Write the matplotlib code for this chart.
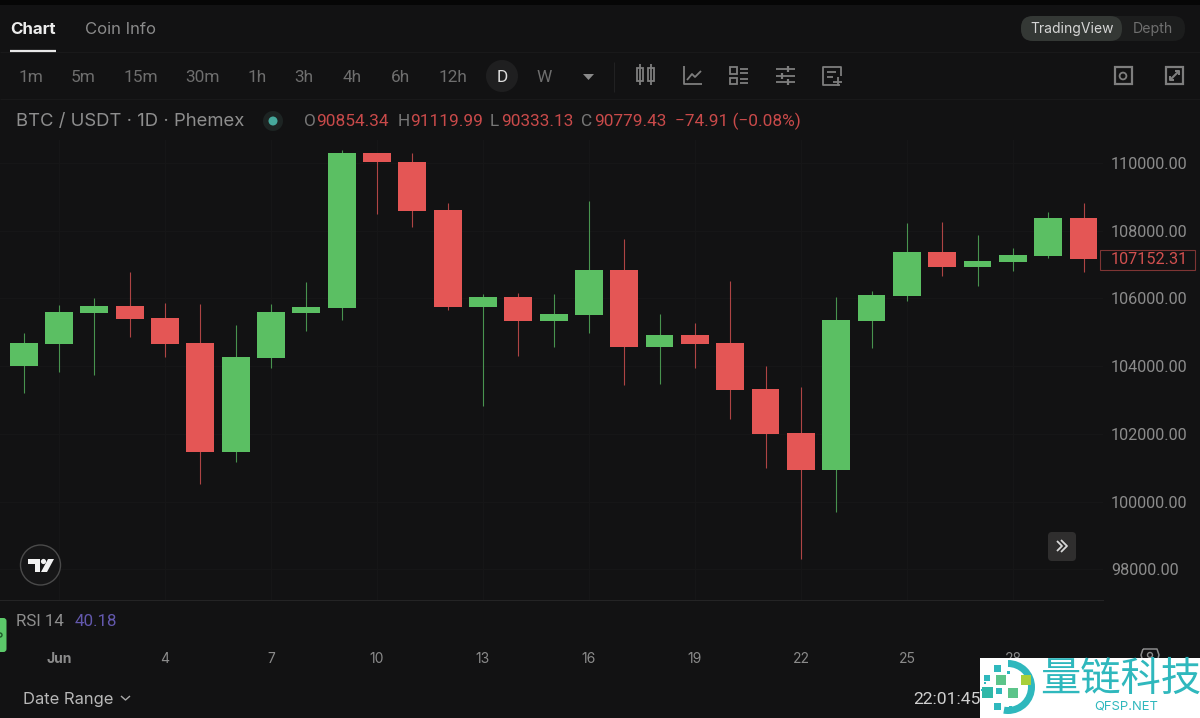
import matplotlib
matplotlib.use("Agg")
import matplotlib.pyplot as plt
from matplotlib.patches import Rectangle, Circle, FancyBboxPatch, Wedge, Polygon

plt.rcParams["font.family"] = ["Inter", "Noto Sans CJK SC", "DejaVu Sans"]

# daily candles, May 31 .. Jun 30
days = list(range(31))
opens = [104003, 104652, 105557, 105781, 105410, 104672, 101457, 104247, 105575, 105705, 110295,
         110030, 108605, 105734, 106038, 105339, 105516, 106826, 104554, 104908, 104672, 103315,
         102017, 100926, 105339, 106076, 107366, 106923, 107062, 107256, 108377]
closes = [104672, 105587, 105781, 105380, 104652, 101457, 104277, 105604, 105734, 110295, 110012,
          108584, 105743, 106038, 105339, 105537, 106826, 104554, 104908, 104652, 103286, 101988,
          100926, 105360, 106088, 107366, 106923, 107091, 107277, 108377, 107150]
highs = [104967, 105802, 106000, 106776, 105870, 105832, 105212, 105832, 106489, 110375, 110295,
         110277, 108811, 106127, 106147, 106127, 108870, 107749, 105537, 105262, 106510, 104003,
         103374, 106029, 106224, 108212, 108259, 107867, 107492, 108554, 108802]
lows = [103197, 103817, 103737, 104867, 104277, 100522, 101162, 103944, 105035, 105351, 108487,
        108094, 105655, 102823, 104298, 104554, 104967, 103442, 103472, 103935, 102430, 100985,
        98309, 99687, 104525, 105911, 106658, 106363, 106796, 107197, 106767]

price_ticks = [98000, 100000, 102000, 104000, 106000, 108000, 110000]
date_ticks = [1, 4, 7, 10, 13, 16, 19, 22, 25, 28]
date_labels = ["Jun", "4", "7", "10", "13", "16", "19", "22", "25", "28"]
last_price = 107152.31
timeframes = ["1m", "5m", "15m", "30m", "1h", "3h", "4h", "6h", "12h", "D", "W"]
timeframe_x = [31, 83, 141, 202, 257, 304, 352, 400, 453, 502, 544]

BG = "#121213"
GREEN = "#5bbf63"
RED = "#e45655"
GRAY = "#8b8b8b"
ICON = "#7e7e7e"
TEAL = "#2fb8bd"
NUM = ["Roboto", "DejaVu Sans"]

fig = plt.figure(figsize=(12, 7.18), dpi=100, facecolor=BG)
W, H = 1200, 718


def px_axes(left, top, right, bottom):
    return [left / W, (H - bottom) / H, (right - left) / W, (bottom - top) / H]


# main price pane
ax = fig.add_axes(px_axes(0, 140, 1103, 600), facecolor=BG)
ax.set_xlim(-0.671, 30.55)
ax.set_ylim(97100, 110670)
for d, o, c, h, l in zip(days, opens, closes, highs, lows):
    col = GREEN if c >= o else RED
    ax.vlines(d, l, h, color=col, lw=0.8, alpha=0.75, zorder=2)
    ax.bar(d, abs(c - o), bottom=min(o, c), width=0.785, color=col, zorder=3)
ax.yaxis.tick_right()
ax.set_yticks(price_ticks)
ax.set_yticklabels(["%.2f" % p for p in price_ticks], family=NUM)
ax.tick_params(axis="y", length=0, pad=5.8, labelsize=11.7, labelcolor=GRAY)
ax.set_xticks(date_ticks)
ax.tick_params(axis="x", length=0, labelbottom=False)
ax.grid(True, color="#171718", lw=0.7, zorder=0)
for s in ax.spines.values():
    s.set_visible(False)

# rsi pane, carries the date axis
ax2 = fig.add_axes(px_axes(0, 600, 1103, 645), facecolor=BG, sharex=ax)
ax2.set_yticks([])
ax2.set_xticks(date_ticks)
ax2.set_xticklabels(date_labels)
ax2.tick_params(axis="x", length=0, pad=5, labelsize=10, labelcolor=GRAY)
ax2.get_xticklabels()[0].set_fontweight("bold")
for k, s in ax2.spines.items():
    s.set_visible(k == "top")
ax2.spines["top"].set_color("#242425")
ax2.spines["top"].set_linewidth(0.8)

# everything around the chart, drawn in pixel coords
ui = fig.add_axes([0, 0, 1, 1], zorder=10)
ui.set_xlim(0, W)
ui.set_ylim(H, 0)
ui.axis("off")
ui.patch.set_alpha(0)


def pill(x0, y0, x1, y1, r, fc, ec="none", lw=0, z=1):
    ui.add_patch(FancyBboxPatch((x0 + r, y0 + r), x1 - x0 - 2 * r, y1 - y0 - 2 * r,
                                boxstyle="round,pad=%f" % r, fc=fc, ec=ec, lw=lw, zorder=z))


def line(xs, ys, c=ICON, lw=1.3, z=3):
    ui.plot(xs, ys, color=c, lw=lw, zorder=z, solid_capstyle="butt")


def box(x0, y0, x1, y1, c=ICON, lw=1.3):
    ui.add_patch(Rectangle((x0, y0), x1 - x0, y1 - y0, fc="none", ec=c, lw=lw, zorder=3))


def label(x, y, s, c=GRAY, fs=10, ha="center", **kw):
    return ui.text(x, y, s, color=c, fontsize=fs, ha=ha, va="center", zorder=4, **kw)


ui.add_patch(Rectangle((0, 0), W, 5, fc="#060606", ec="none"))

# last price tag
box(1100, 249.5, 1194.5, 270, c="#7e3534", lw=0.8)
label(1149, 260, "%.2f" % last_price, c="#d2504f", fs=11.7, family=NUM)

# tabs
label(10, 29.5, "Chart", c="#ececec", fs=12.2, ha="left", fontweight="bold")
label(85, 29.5, "Coin Info", c=GRAY, fs=12, ha="left")
line([10, 56], [51, 51], c="#e8e8e8", lw=1.6)
line([0, W], [52, 52], c="#1a1a1b", lw=0.7, z=1)
pill(1021, 16, 1185, 41, 12, "#1c1d1d")
pill(1021, 16, 1122, 41, 12, "#343835", z=2)
label(1072, 29.5, "TradingView", c="#d6d6d6", fs=10)
label(1153, 29.5, "Depth", c="#6f6f6f", fs=10.2)

# timeframes
ui.add_patch(Circle((502, 76), 16, fc="#1f1f20", ec="none", zorder=1))
for x, s in zip(timeframe_x, timeframes):
    label(x, 77, s, c="#dedede" if s == "D" else "#6e6e6e", fs=12.4, family=NUM)
ui.add_patch(Polygon([[583, 74], [594, 74], [588.5, 80]], fc="#8a8a8a", ec="none", zorder=3))
line([614, 614], [62, 92], c="#212122", lw=0.8)
line([0, W], [99, 99], c="#1a1a1b", lw=0.7, z=1)

# toolbar icons
box(637, 68, 643, 81)
box(648, 68, 654, 81)
line([640, 640], [64, 85])
line([651, 651], [64, 85])
line([684, 684, 702], [66, 84, 84])
line([687, 692, 695, 701], [80, 74, 77, 71])
box(730, 67, 737, 73.5)
box(730, 77.5, 737, 84)
line([740, 748], [69, 69])
line([740, 748], [72.5, 72.5])
line([740, 748], [79, 79])
line([740, 748], [82.5, 82.5])
for yy, xa in [(69, 788), (75.5, 782), (82, 788)]:
    line([776, 795], [yy, yy])
    line([xa, xa], [yy - 3, yy + 3], lw=1.6)
line([840, 823, 823, 831], [85, 85, 67, 67])
line([831, 841, 841], [67, 67, 76])
line([827, 836], [72, 72])
line([827, 833], [77, 77])
line([833, 842], [81.5, 81.5])
line([837.5, 837.5], [77, 86])
box(1115, 67, 1132, 84, lw=1.6)
ui.add_patch(Circle((1123, 76), 3.4, fc="none", ec=ICON, lw=1.3, zorder=3))
box(1166, 67, 1183, 84, lw=1.6)
line([1170, 1179], [80, 71], lw=1.5)
line([1175, 1179, 1179], [71, 71, 75], lw=1.5)
line([1170, 1170, 1174], [76, 80, 80], lw=1.5)

# legend line
label(16, 121.5, "BTC / USDT · 1D · Phemex", c="#8e8e8e", fs=13.3, ha="left")
ui.add_patch(Circle((273, 121), 10, fc="#1d2423", ec="none", zorder=2))
ui.add_patch(Circle((273, 121), 4.5, fc="#46a99c", ec="none", zorder=3))
for x, k, xv, v in [(304, "O", 316, "90854.34"), (398, "H", 410, "91119.99"),
                    (490, "L", 501, "90333.13"), (581, "C", 594, "90779.43")]:
    label(x, 121.5, k, c="#777777", fs=12.4, ha="left", family=NUM)
    label(xv, 121.5, v, c="#c94a4a", fs=12.4, ha="left", family=NUM)
label(675, 121.5, "−74.91 (−0.08%)", c="#c94a4a", fs=12.4, ha="left", family=NUM)

# tradingview badge
ui.add_patch(Circle((40.5, 565), 20, fc="#161617", ec="#4a4a4a", lw=1, zorder=2))
ui.add_patch(Polygon([[28, 559], [40, 559], [40, 572], [34.5, 572], [34.5, 564], [28, 564]],
                     fc="#f2f2f2", ec="none", zorder=3))
ui.add_patch(Circle((43.5, 561.5), 2.6, fc="#f2f2f2", ec="none", zorder=3))
ui.add_patch(Polygon([[48, 559], [54, 559], [47, 572], [41, 572]], fc="#f2f2f2", ec="none", zorder=3))

# scroll button
pill(1048, 532, 1076, 561, 4, "#2f2e2e")
line([1057, 1062, 1057], [541, 546, 551], c="#d8d8d8", lw=1.3)
line([1061, 1067, 1061], [540, 546, 552], c="#d8d8d8", lw=1.3)

# rsi legend + left tab
label(16, 621.5, "RSI 14", c="#8e8e8e", fs=12.2, ha="left", family=NUM)
label(75, 621.5, "40.18", c="#6358ad", fs=12.2, ha="left", family=NUM)
pill(-8, 618, 6.5, 652, 3, "#5cc96a")
ui.add_patch(Circle((0, 635), 2, fc="none", ec="#1d5a28", lw=1, zorder=3))

# footer
label(23, 699.5, "Date Range", c="#b8b8b8", fs=11.9, ha="left")
line([121, 125.5, 130], [696, 700, 696], c="#a8a8a8", lw=1)
label(913, 699, "22:01:45", c="#d0d0d0", fs=12.6, ha="left", family=NUM)
hx = [1143, 1157, 1159, 1157, 1143, 1141, 1143]
line(hx, [649, 649, 655, 662, 662, 655, 649], c="#8a8a8a", lw=1.1)
ui.add_patch(Circle((1150, 655), 2.5, fc="none", ec="#8a8a8a", lw=1, zorder=3))

# watermark block
ui.add_patch(Rectangle((980, 658), 220, 60, fc="white", ec="none", zorder=6))
ui.add_patch(Wedge((1008, 687), 27, -90, 90, width=7, fc=TEAL, ec="none", zorder=7))
ui.add_patch(Wedge((1008, 687), 27, 88, 100, width=7, fc=TEAL, ec="none", zorder=7))
for x, y, s, c in [(997, 668, 7, TEAL), (987, 678, 6, TEAL), (1000.5, 680, 10, "#5cc48a"),
                   (1026, 680, 10, "#a8cf3a"), (987, 692.5, 11, "#2fb8a8"), (999, 691, 6, TEAL),
                   (1013, 693, 10, "#5cc48a"), (997.5, 706, 7, TEAL), (985, 683, 2, TEAL),
                   (1008, 672, 3, TEAL), (1010, 707, 3, TEAL), (982, 690, 2, TEAL)]:
    ui.add_patch(Rectangle((x - s / 2, y - s / 2), s, s, fc=c, ec="none", zorder=8))
ui.text(1121, 679, "量链科技", color=TEAL, fontsize=29, ha="center", va="center", zorder=8,
        family=["Noto Sans CJK SC", "DejaVu Sans"], fontweight="medium")
ui.text(1126, 707, "QFSP.NET", color=TEAL, fontsize=9.4, ha="center", va="center", zorder=8)

fig.savefig("out.png", dpi=100, facecolor=BG)
